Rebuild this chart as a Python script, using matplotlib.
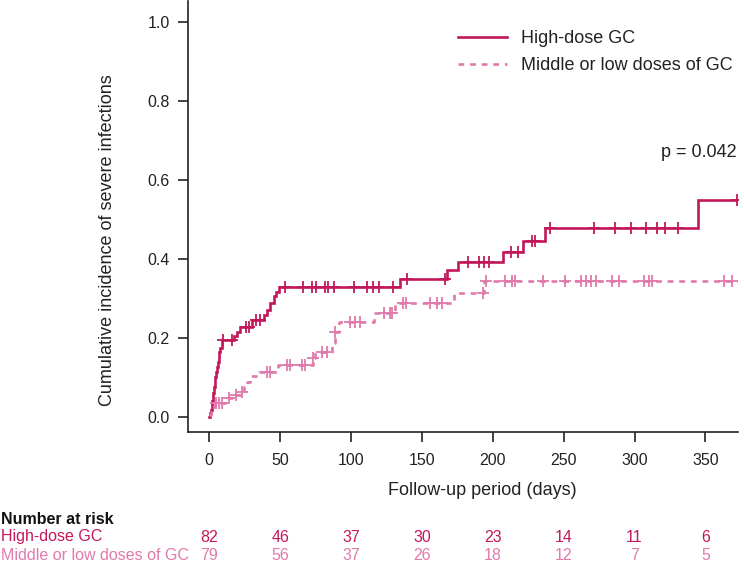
import numpy as np
import matplotlib
matplotlib.use("Agg")
import matplotlib.pyplot as plt
from matplotlib.transforms import blended_transform_factory

plt.rcParams['font.family'] = ['Liberation Sans', 'DejaVu Sans']

# ---------------- data ----------------
group_labels = ["High-dose GC", "Middle or low doses of GC"]

high_times = [0, 0.5, 1.2, 1.9, 2.5, 3.1, 3.7, 4.2, 4.8, 5.4, 6.0, 6.6, 7.2, 7.8, 9,
              17.2, 19.5, 21.9, 30.1, 38.3, 40.7, 43, 45.4, 47.3, 48.9,
              134.8, 167.7, 175.3, 207.3, 221.4, 236.7, 344.6]
high_values = [0, 0.01, 0.018, 0.04, 0.06, 0.077, 0.09, 0.102, 0.115, 0.127, 0.14, 0.153,
               0.165, 0.174, 0.195, 0.205, 0.216, 0.229, 0.246, 0.258, 0.271, 0.288, 0.305,
               0.317, 0.330, 0.349, 0.372, 0.392, 0.418, 0.446, 0.478, 0.549]
high_end = 372.4
high_censor = [10, 16, 26, 28, 33, 36, 53.2, 66.1, 72.4, 75.5, 81.8, 83.5, 88.2, 102.3,
               111.3, 115.5, 119.9, 129.6, 139.5, 166, 182.3, 190.3, 193.6, 197.1, 212.9,
               217.8, 227.7, 230, 240.6, 271.2, 286, 297.6, 307.9, 315.9, 321.8, 330.5, 372.4]

mid_times = [0, 1, 2, 3, 4.2, 12.5, 17.2, 21.9, 24.2, 26.6, 28.5, 34.8, 48.2, 73.2, 74.5,
             86.6, 89, 91.3, 116.4, 131, 172.9, 194]
mid_values = [0.005, 0.013, 0.02, 0.028, 0.035, 0.048, 0.056, 0.064, 0.077, 0.089, 0.104,
              0.115, 0.132, 0.149, 0.165, 0.187, 0.216, 0.241, 0.263, 0.288, 0.313, 0.343]
mid_end = 373
mid_censor = [5, 7, 9, 14, 19, 23, 41, 42.5, 54.8, 57.2, 65.4, 67.7, 73.2, 79.5, 83, 89,
              99.5, 103, 106.6, 123, 127.3, 128.9, 136.7, 139, 156, 160.7, 164.2, 193,
              195.5, 208.9, 213.6, 216, 235.5, 251.2, 262.3, 266.1, 269.4, 273.1, 284.2,
              288.9, 306.5, 310, 312.4, 363, 368.9]

risk_times = [0, 50, 100, 150, 200, 250, 300, 350]
risk_high = [82, 46, 37, 30, 23, 14, 11, 6]
risk_mid = [79, 56, 37, 26, 18, 12, 7, 5]

p_text = "p = 0.042"

# ---------------- style ----------------
c_high = "#C2185B"
c_mid = "#E07AAC"

W, H = 744, 563
fig = plt.figure(figsize=(W / 100, H / 100), dpi=100)
ax = fig.add_axes([188 / W, 1 - 432 / H, (738 - 188) / W, (432 - 1) / H])


def step_value(times, values, t):
    idx = np.searchsorted(np.asarray(times), t, side='right') - 1
    return np.asarray(values)[max(idx, 0)]


def draw(times, values, end, censor, color, ls, label):
    tt = list(times) + [end]
    vv = list(values) + [values[-1]]
    ax.step(tt, vv, where='post', color=color, lw=1.9, ls=ls, label=label,
            solid_joinstyle='miter')
    cy = [step_value(times, values, t) for t in censor]
    ax.plot(censor, cy, ls='none', marker='+', ms=9, mew=1.3, color=color)


draw(high_times, high_values, high_end, high_censor, c_high, '-', group_labels[0])
draw(mid_times, mid_values, mid_end, mid_censor, c_mid, (0, (2.2, 2.2)), group_labels[1])

ax.set_xlim(-15, 373)
ax.set_ylim(-0.038, 1.053)
ax.set_xticks(risk_times)
ax.set_yticks([0, 0.2, 0.4, 0.6, 0.8, 1.0])
ax.set_yticklabels(["0.0", "0.2", "0.4", "0.6", "0.8", "1.0"])
for s in ['top', 'right']:
    ax.spines[s].set_visible(False)
for s in ['left', 'bottom']:
    ax.spines[s].set_linewidth(1.2)
    ax.spines[s].set_color('#222222')
ax.tick_params(axis='both', length=7, width=1.2, labelsize=11.5, color='#222222',
               labelcolor='#222222')
ax.tick_params(axis='x', pad=8)
ax.tick_params(axis='y', pad=6)

ax.set_xlabel("Follow-up period (days)", fontsize=13, color='#222222')
ax.xaxis.set_label_coords((482 - 188) / 550, (432 - 482) / 431)
ax.set_ylabel("Cumulative incidence of severe infections", fontsize=13, color='#222222')
ax.yaxis.set_label_coords((116 - 188) / 550, (432 - 240) / 431)

leg = ax.legend(loc='upper left', bbox_to_anchor=((458 - 188) / 550, (432 - 30) / 431),
                frameon=False, fontsize=13, handlelength=2.7, handletextpad=0.8,
                labelspacing=0.55, borderaxespad=0, borderpad=0)
for t in leg.get_texts():
    t.set_color('#222222')

ax.text(373 - 1, 0.67, p_text, ha='right', va='center', fontsize=13, color='#222222')

# number at risk table
tr = blended_transform_factory(ax.transData, fig.transFigure)
y_rows = [1 - 519 / H, 1 - 537 / H, 1 - 555 / H]
fig.text(1 / W, y_rows[0], "Number at risk", fontsize=11.5, fontweight='bold',
         va='center', ha='left', color='#111111')
fig.text(1 / W, y_rows[1], group_labels[0], fontsize=11.5, va='center', ha='left', color=c_high)
fig.text(1 / W, y_rows[2], group_labels[1], fontsize=11.5, va='center', ha='left', color=c_mid)
for t, a, b in zip(risk_times, risk_high, risk_mid):
    ax.text(t, y_rows[1], str(a), transform=tr, ha='center', va='center',
            fontsize=11.5, color=c_high, clip_on=False)
    ax.text(t, y_rows[2], str(b), transform=tr, ha='center', va='center',
            fontsize=11.5, color=c_mid, clip_on=False)

fig.savefig("out.png", dpi=100)
